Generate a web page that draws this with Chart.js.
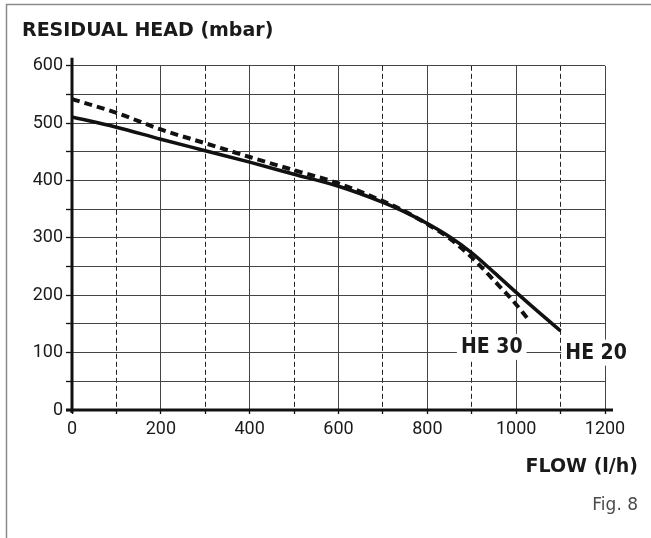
<!DOCTYPE html>
<html>
<head>
<meta charset="utf-8">
<script src="https://cdn.jsdelivr.net/npm/chart.js@4/dist/chart.umd.min.js"></script>
<style>
  html, body { margin: 0; padding: 0; background: #fff; }
  #wrap { width: 651px; height: 538px; position: relative; }
</style>
</head>
<body>
<div id="wrap"><canvas id="c" width="651" height="538"></canvas></div>
<script>
// ---- data ----
const chartTitle = 'RESIDUAL HEAD (mbar)';
const xAxisTitle = 'FLOW (l/h)';
const figLabel = 'Fig. 8';
const seriesNames = ['HE 20', 'HE 30'];

const flowHE20 = [0, 100, 200, 300, 400, 500, 600, 700, 750, 800, 850, 900, 950, 1000, 1050, 1100];
const headHE20 = [511, 493, 472, 452, 432, 411, 390, 362, 345, 325, 302, 274, 240, 205, 171, 138];

const flowHE30 = [0, 100, 200, 300, 400, 500, 600, 700, 750, 800, 850, 900, 950, 1000, 1025];
const headHE30 = [542, 518, 489, 465, 441, 418, 395, 364, 346, 324, 299, 266, 226, 184, 160];

const xTickValues = [0, 200, 400, 600, 800, 1000, 1200];
const yTickValues = [0, 100, 200, 300, 400, 500, 600];
// label anchors (data coordinates) for the series names
const labelAnchorHE30 = { x: 945, y: 110 };
const labelAnchorHE20 = { x: 1180, y: 100 };

const toXY = (xs, ys) => xs.map((x, i) => ({ x: x, y: ys[i] }));

const TICK_FONT = { family: 'Roboto, "DejaVu Sans", sans-serif', size: 18 };
const LABEL_FONT = 'bold 21px "DejaVu Sans Condensed", "DejaVu Sans", sans-serif';

const decorPlugin = {
  id: 'decor',
  beforeDatasetsDraw(chart) {
    const { ctx, chartArea: a } = chart;
    ctx.save();
    ctx.strokeStyle = '#111';
    ctx.lineWidth = 3;
    ctx.lineCap = 'butt';
    ctx.beginPath();
    ctx.moveTo(a.left, a.top - 8);
    ctx.lineTo(a.left, a.bottom + 3);
    ctx.moveTo(a.left - 6, a.bottom);
    ctx.lineTo(a.right + 8, a.bottom);
    ctx.stroke();
    ctx.restore();
  },
  afterDraw(chart) {
    const { ctx } = chart;
    const xs = chart.scales.x, ys = chart.scales.y;
    ctx.save();
    // outer frame (left and top)
    ctx.strokeStyle = '#8a8a8a';
    ctx.lineWidth = 1.5;
    ctx.beginPath();
    ctx.moveTo(6.5, 538);
    ctx.lineTo(6.5, 4.5);
    ctx.lineTo(651, 4.5);
    ctx.stroke();

    // series labels with white backing
    ctx.font = LABEL_FONT;
    ctx.textAlign = 'center';
    ctx.textBaseline = 'middle';
    const drawLabel = (txt, anchor) => {
      const px = xs.getPixelForValue(anchor.x);
      const py = ys.getPixelForValue(anchor.y);
      const w = ctx.measureText(txt).width;
      ctx.fillStyle = '#fff';
      ctx.fillRect(px - w / 2 - 4, py - 13, w + 8, 26);
      ctx.fillStyle = '#1a1a1a';
      ctx.fillText(txt, px, py + 1);
    };
    drawLabel(seriesNames[1], labelAnchorHE30);
    drawLabel(seriesNames[0], labelAnchorHE20);

    // x axis title and figure label
    ctx.textAlign = 'right';
    ctx.fillStyle = '#1a1a1a';
    ctx.font = 'bold 19px "DejaVu Sans", sans-serif';
    ctx.fillText(xAxisTitle, 638, 467);
    ctx.fillStyle = '#4a4a4a';
    ctx.font = '17px "DejaVu Sans", sans-serif';
    ctx.fillText(figLabel, 638, 506);
    ctx.restore();
  }
};

new Chart(document.getElementById('c'), {
  type: 'line',
  data: {
    datasets: [
      {
        label: seriesNames[0],
        data: toXY(flowHE20, headHE20),
        borderColor: '#111',
        borderWidth: 3.5,
        pointRadius: 0,
        cubicInterpolationMode: 'monotone',
        fill: false
      },
      {
        label: seriesNames[1],
        data: toXY(flowHE30, headHE30),
        borderColor: '#111',
        borderWidth: 4,
        borderDash: [8, 5],
        pointRadius: 0,
        cubicInterpolationMode: 'monotone',
        fill: false
      }
    ]
  },
  options: {
    responsive: false,
    animation: false,
    events: [],
    layout: { padding: { left: 22, right: 46, top: 0, bottom: 0 } },
    plugins: {
      legend: { display: false },
      tooltip: { enabled: false },
      title: {
        display: true,
        text: chartTitle,
        align: 'start',
        color: '#1a1a1a',
        font: { family: '"DejaVu Sans", sans-serif', size: 19, weight: 'bold' },
        padding: { top: 20, bottom: 23 }
      }
    },
    scales: {
      x: {
        type: 'linear',
        min: 0,
        max: 1200,
        afterFit(scale) { scale.height = 128; },
        ticks: {
          stepSize: 100,
          autoSkip: false,
          maxRotation: 0,
          padding: 5,
          color: '#1a1a1a',
          font: TICK_FONT,
          callback: (v) => xTickValues.includes(v) ? String(v) : ''
        },
        grid: {
          color: (c) => (c.tick && c.tick.value % 200 !== 0) ? '#222' : '#444',
          lineWidth: 1,
          tickLength: 4,
          tickColor: '#111',
          tickWidth: 1.3
        },
        border: {
          display: false,
          dash: (c) => (c.tick && c.tick.value % 200 !== 0) ? [5, 3] : []
        }
      },
      y: {
        type: 'linear',
        min: 0,
        max: 600,
        afterFit(scale) { scale.width = 50; },
        ticks: {
          stepSize: 50,
          autoSkip: false,
          padding: 3,
          color: '#1a1a1a',
          font: TICK_FONT,
          callback: (v) => yTickValues.includes(v) ? String(v) : ''
        },
        grid: {
          color: '#444',
          lineWidth: 1,
          tickLength: 6,
          tickColor: '#111',
          tickWidth: 1.3
        },
        border: { display: false }
      }
    }
  },
  plugins: [decorPlugin]
});
</script>
</body>
</html>
